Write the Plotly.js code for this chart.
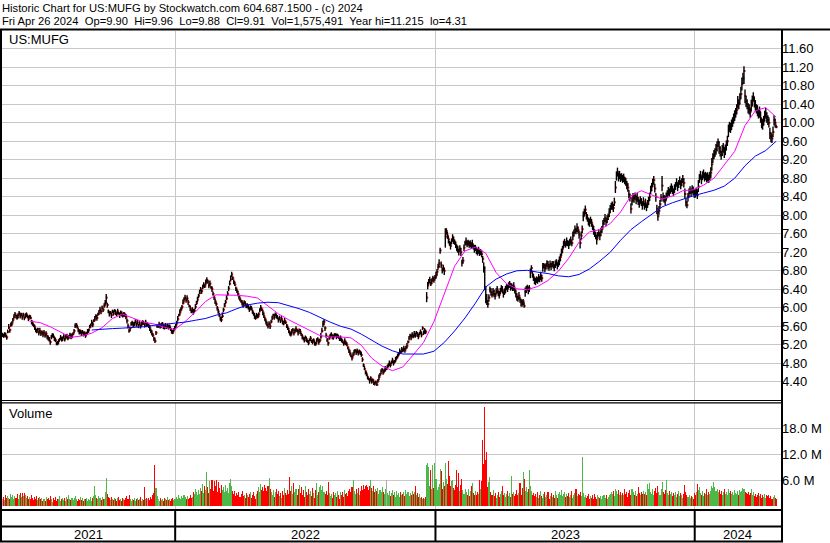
<!DOCTYPE html>
<html><head><meta charset="utf-8">
<script src="https://cdn.plot.ly/plotly-3.0.1.min.js"></script>
<style>html,body{margin:0;padding:0;background:#fff}#chart{width:830px;height:543px}</style>
</head><body><div id="chart"></div>
<script>
// ---- data ----
const yearLabels = ['2021', '2022', '2023', '2024'];

const closes2021 = [5.42,5.38,5.44,5.40,5.36,5.48,5.58,5.52,5.62,5.66,
5.74,5.80,5.86,5.82,5.78,5.84,5.88,5.82,5.86,5.80,
5.84,5.78,5.82,5.86,5.80,5.76,5.82,5.78,5.70,5.66,
5.62,5.58,5.52,5.48,5.54,5.46,5.50,5.44,5.48,5.42,
5.46,5.40,5.44,5.38,5.34,5.30,5.26,5.36,5.42,5.38,
5.34,5.30,5.24,5.22,5.28,5.32,5.36,5.30,5.34,5.38,
5.32,5.36,5.40,5.34,5.38,5.42,5.36,5.40,5.44,5.50,
5.60,5.64,5.58,5.52,5.46,5.50,5.44,5.48,5.42,5.46,
5.40,5.44,5.48,5.52,5.58,5.62,5.68,5.64,5.72,5.76,
5.82,5.78,5.86,5.90,5.96,5.92,6.00,5.96,6.04,6.10,
6.22,6.06,5.92,5.86,5.90,5.84,5.92,5.88,5.94,5.90,
5.86,5.92,5.88,5.84,5.90,5.86,5.82,5.88,5.84,5.80,
5.72,5.60,5.50,5.56,5.64,5.68,5.62,5.66,5.70,5.64,
5.68,5.62,5.66,5.60,5.64,5.70,5.66,5.62,5.68,5.64,
5.64,5.60,5.56,5.50,5.44,5.40,5.34,5.28,5.46,5.60,
5.60,5.64,5.58,5.62,5.66,5.60,5.56,5.62,5.58,5.62,
5.56,5.60,5.54,5.50,5.46,5.52,5.56];

const closes2022 = [5.60,5.68,5.76,5.84,5.90,5.96,6.02,6.10,6.18,6.22,
6.16,6.20,6.12,6.04,5.98,5.92,5.96,5.90,5.94,6.02,
6.10,6.18,6.26,6.32,6.40,6.36,6.44,6.50,6.46,6.54,
6.60,6.56,6.48,6.52,6.44,6.40,6.30,6.22,6.14,6.08,
6.00,5.92,5.84,5.78,5.74,5.82,5.96,6.04,6.12,6.20,
6.30,6.42,6.52,6.62,6.72,6.64,6.56,6.50,6.42,6.36,
6.30,6.24,6.18,6.14,6.10,6.06,6.12,6.08,6.02,6.06,
6.00,5.96,6.02,5.98,5.92,5.86,5.82,5.78,5.84,5.80,
5.86,5.94,6.00,5.96,5.90,5.82,5.76,5.70,5.64,5.60,
5.66,5.60,5.70,5.78,5.84,5.80,5.86,5.82,5.78,5.74,
5.78,5.72,5.76,5.70,5.66,5.72,5.68,5.62,5.56,5.50,
5.46,5.42,5.48,5.52,5.46,5.50,5.54,5.50,5.46,5.52,
5.48,5.42,5.38,5.34,5.30,5.36,5.32,5.28,5.24,5.30,
5.34,5.28,5.26,5.30,5.24,5.22,5.28,5.32,5.26,5.30,
5.38,5.50,5.64,5.70,5.56,5.40,5.30,5.24,5.34,5.40,
5.42,5.38,5.36,5.40,5.42,5.38,5.40,5.36,5.32,5.34,
5.30,5.26,5.22,5.28,5.24,5.20,5.14,5.08,5.02,4.96,
4.92,4.98,5.04,5.08,5.04,5.06,5.02,5.06,5.04,4.98,
4.88,4.76,4.68,4.62,4.56,4.50,4.46,4.42,4.48,4.40,
4.44,4.38,4.36,4.40,4.34,4.42,4.50,4.56,4.62,4.66,
4.60,4.64,4.68,4.68,4.72,4.76,4.80,4.76,4.82,4.86,
4.80,4.84,4.88,4.92,4.96,5.00,5.06,5.04,5.10,5.08,
5.12,5.08,5.14,5.18,5.26,5.34,5.40,5.36,5.42,5.38,
5.44,5.40,5.46,5.42,5.38,5.44,5.48,5.42,5.56,5.46,
5.50,5.48,6.22,6.48,6.56,6.60,6.52,6.58,6.64,6.60,
6.66];

const closes2023 = [6.70,6.78,6.88,6.96,7.24,6.92,6.82,6.86,6.80,7.54,
7.66,7.56,7.48,7.40,7.34,7.44,7.52,7.46,7.42,7.36,
7.30,7.26,7.22,7.28,7.20,6.98,7.02,7.30,7.40,7.44,
7.38,7.42,7.36,7.40,7.34,7.38,7.32,7.28,7.30,7.24,
7.20,7.26,7.18,7.22,7.16,7.06,6.86,6.44,6.20,6.14,
6.08,6.22,6.40,6.34,6.28,6.36,6.30,6.26,6.34,6.40,
6.32,6.28,6.36,6.44,6.38,6.30,6.34,6.40,6.46,6.42,
6.48,6.52,6.44,6.48,6.42,6.46,6.38,6.30,6.24,6.20,
6.26,6.18,6.12,6.08,6.14,6.04,6.34,6.40,6.44,6.38,
6.42,6.76,6.86,6.72,6.66,6.60,6.56,6.62,6.58,6.66,
6.62,6.70,6.64,6.88,6.92,6.86,6.90,6.96,6.92,6.88,
6.94,6.90,6.96,6.92,6.88,6.94,6.98,6.92,6.96,7.02,
7.10,7.20,7.28,7.36,7.42,7.38,7.44,7.40,7.36,7.42,
7.46,7.40,7.56,7.62,7.70,7.66,7.74,7.68,7.58,7.40,
7.56,7.70,7.98,8.06,8.12,8.00,7.94,7.88,7.84,7.90,
7.84,7.76,7.68,7.62,7.56,7.48,7.58,7.62,7.56,7.64,
7.70,7.82,7.88,7.94,7.86,7.92,7.98,8.06,8.14,8.20,
8.22,8.16,8.28,8.60,8.86,8.94,8.82,8.88,8.80,8.84,
8.78,8.82,8.76,8.72,8.66,8.60,8.46,8.38,8.14,8.30,
8.40,8.36,8.42,8.34,8.38,8.30,8.26,8.34,8.28,8.22,
8.30,8.20,8.26,8.18,8.24,8.32,8.40,8.54,8.62,8.70,
8.76,8.58,8.40,8.14,7.98,8.10,8.24,8.38,8.64,8.40,
8.36,8.32,8.40,8.46,8.52,8.48,8.56,8.60,8.54,8.50,
8.58,8.64,8.70,8.62,8.68,8.74,8.66,8.72,8.78,8.70,
8.46,8.28,8.22,8.40,8.48,8.54,8.50,8.56,8.52,8.48];

const closes2024 = [8.46,8.52,8.44,8.62,8.80,8.86,8.78,8.84,8.90,8.82,
8.86,8.80,8.84,8.78,8.86,8.92,9.10,9.24,9.30,9.36,
9.42,9.50,9.58,9.46,9.38,9.30,9.40,9.46,9.34,9.42,
9.52,9.60,9.82,9.92,9.88,9.96,10.02,10.08,10.16,10.22,
10.28,10.44,10.40,10.52,10.62,10.84,10.96,11.12,10.58,10.46,
10.40,10.32,10.28,10.24,10.36,10.48,10.56,10.44,10.38,10.30,
10.26,10.20,10.24,10.10,10.00,9.96,10.04,10.16,10.20,10.12,
10.06,10.00,9.78,9.70,9.66,9.80,10.06,10.00,9.91];

// daily high above close / low below close, in cents
const hiCents2021 = [4,5,3,6,4,5,7,3,6,5,4,6,5,3,7,4,5,6,3,4,5,3,6,4,5,7,3,5,4,6,3,5,4,6,3,5,7,4,3,5,
6,4,5,3,6,7,4,5,3,6,4,5,3,6,4,3,5,6,4,5,3,6,4,5,3,4,6,5,3,4,6,3,5,4,7,3,5,4,6,3,
5,4,6,3,5,4,6,5,3,6,4,7,3,5,6,4,5,3,6,7,8,5,4,6,3,5,4,6,3,5,4,6,3,5,4,6,5,3,4,6,
5,6,4,3,5,4,6,3,5,4,6,3,5,4,6,3,5,4,6,5,3,5,6,4,7,5,3,6,4,5,3,6,4,5,3,4,6,5,3,4,
6,4,5,3,6,4,5];
const loCents2021 = [5,3,6,4,5,3,4,6,3,5,6,4,3,5,4,6,3,5,4,6,3,5,4,6,3,5,4,3,6,5,4,6,5,3,4,6,3,5,4,6,
3,5,4,6,5,3,6,4,5,3,6,4,5,3,6,4,5,3,6,4,5,3,6,4,5,3,4,6,3,5,4,6,3,5,4,6,5,3,4,6,
5,3,4,6,3,5,4,6,3,5,4,6,3,5,4,6,3,5,4,5,12,6,4,5,3,6,4,5,3,6,4,5,3,6,4,5,3,6,4,5,
6,5,4,6,3,5,4,6,3,5,4,6,3,5,4,6,3,5,4,6,5,4,6,5,4,3,6,4,5,3,4,6,3,5,4,6,3,5,4,6,
3,5,4,6,3,5,4];
const hiCents2022 = [5,4,6,3,7,5,4,8,5,6,4,7,5,3,6,4,5,7,4,6,5,6,4,7,5,3,6,5,4,7,6,4,5,7,3,6,5,4,6,5,
4,6,5,3,7,8,4,6,5,7,6,5,7,8,6,4,5,6,4,5,6,4,5,3,6,5,4,6,5,4,6,5,3,6,4,5,7,4,5,6,
4,5,6,4,5,7,4,5,6,4,5,6,4,5,3,6,4,5,6,4,5,3,6,4,5,6,4,3,5,6,4,5,6,4,3,5,6,4,5,3,
6,4,5,3,6,4,5,3,6,4,5,3,6,4,5,3,6,4,5,3,8,7,8,5,4,6,5,3,6,4,5,4,6,5,3,6,4,5,3,6,
4,5,3,6,4,5,3,4,6,5,4,6,5,3,4,6,5,4,3,6,5,4,6,3,5,4,3,5,4,6,3,5,4,3,5,4,6,3,5,4,
5,4,6,3,5,4,6,5,4,6,5,3,6,4,5,4,6,3,5,4,6,5,4,6,3,5,4,6,5,4,6,5,4,5,6,4,5,6,4,5,
6,5,12,8,6,7,5,6,5,6,5];
const loCents2022 = [4,6,5,3,6,4,5,3,6,4,5,4,6,3,5,4,6,5,3,5,4,6,5,3,5,6,4,5,3,6,5,4,6,5,3,6,4,5,6,4,
6,5,4,6,5,4,6,3,5,4,5,6,4,5,6,4,5,3,6,4,5,6,4,3,5,6,4,5,3,6,4,5,6,4,5,3,6,4,5,3,
6,4,5,3,6,4,5,6,4,5,3,6,4,5,3,6,4,5,3,6,4,5,3,6,4,5,3,6,4,5,6,4,5,3,6,4,5,3,6,4,
5,3,6,4,5,3,6,4,5,3,6,4,5,3,6,4,5,3,6,4,5,4,6,8,6,5,4,6,3,5,4,6,5,3,4,6,5,3,4,6,
5,3,4,6,5,3,4,6,5,3,6,4,5,3,6,4,5,3,6,4,5,4,3,6,4,5,3,6,5,4,3,5,4,3,3,4,6,4,5,3,
5,4,6,3,5,4,6,5,4,6,5,3,6,4,5,4,6,3,5,4,6,5,4,6,3,5,4,6,5,4,6,5,4,5,6,4,5,6,4,5,
6,5,10,8,6,7,5,6,5,6,5];
const hiCents2023 = [8,6,7,9,6,8,5,7,6,18,6,8,7,5,9,6,7,8,5,7,6,8,5,7,9,6,8,7,5,8,7,5,8,6,7,9,5,8,6,7,
8,6,7,5,8,6,12,46,26,16,9,7,6,8,5,7,9,6,8,7,6,8,7,5,9,6,8,7,5,8,7,6,8,5,7,9,6,8,7,5,
8,6,7,9,5,8,10,7,6,8,7,9,6,8,7,5,9,6,8,7,6,8,7,9,5,8,6,7,9,6,8,7,5,9,6,8,7,6,8,9,
7,8,6,9,7,5,8,6,9,7,8,6,9,7,8,6,9,7,8,10,9,8,10,8,9,7,8,6,9,7,8,6,9,7,8,10,6,8,7,9,
7,8,6,9,7,8,6,9,8,7,8,9,10,14,9,9,10,8,9,7,9,8,7,9,8,10,9,8,12,9,8,9,7,8,10,9,8,7,9,8,
9,8,10,7,9,8,9,10,8,9,9,10,8,9,12,10,9,8,21,9,8,10,9,8,9,10,8,9,10,8,9,8,10,9,8,10,9,8,9,10,
12,10,9,8,10,9,8,9,10,8];
const loCents2023 = [7,8,6,9,7,6,8,7,9,24,8,7,9,6,8,7,9,8,6,7,8,7,9,6,8,9,7,8,6,9,7,8,6,9,7,8,6,9,7,8,
7,9,6,8,7,9,10,6,10,8,8,9,7,8,6,9,7,8,6,9,7,8,6,9,7,8,6,9,7,8,6,9,7,8,6,9,7,8,9,7,
8,7,9,6,8,4,10,8,7,9,8,12,9,7,8,9,7,8,6,9,7,9,8,10,7,9,8,7,9,8,7,9,8,7,9,8,7,9,8,10,
9,8,10,7,9,8,10,7,9,8,9,7,10,8,9,7,10,8,9,12,10,9,11,8,10,9,8,10,9,8,9,8,10,9,8,11,9,8,10,9,
8,10,9,8,10,9,8,10,9,8,10,9,8,12,11,10,9,10,8,9,8,10,9,8,10,9,10,8,10,9,10,9,8,10,9,8,10,9,8,10,
9,8,10,9,8,10,9,8,10,9,10,9,11,12,10,9,10,9,12,10,9,10,8,9,10,8,9,10,8,9,10,9,8,10,9,8,10,9,8,10,
10,9,7,10,9,8,10,9,8,10];
const hiCents2024 = [10,8,12,14,9,10,8,11,9,10,8,11,9,10,8,12,14,10,11,9,12,10,8,14,11,9,12,10,13,11,
10,12,14,10,12,11,10,12,11,10,12,14,11,12,16,14,12,10,14,12,11,10,12,9,14,11,10,12,11,10,
12,10,11,14,10,12,11,10,12,11,10,12,11,9,10,12,10,9,5];
const loCents2024 = [8,10,9,12,10,9,11,8,10,9,10,9,11,8,10,12,14,11,9,10,11,12,10,13,11,10,12,11,10,12,
12,10,13,11,10,12,11,10,12,11,10,13,11,12,10,14,12,28,16,12,11,12,10,13,11,12,10,11,13,10,
12,11,13,10,12,11,10,13,11,12,11,10,13,12,10,11,12,10,3];

// daily volume, millions of shares
const volume2021 = [1.8,2.2,1.5,2.6,1.9,2.4,2.0,1.6,2.8,2.1,2.5,1.7,2.3,2.0,2.9,1.8,2.6,3.1,2.2,3.0,
2.4,3.0,2.7,1.9,2.3,1.6,2.2,1.8,2.5,1.9,1.5,2.1,1.7,2.4,1.4,1.9,2.2,1.6,2.0,1.3,
1.8,1.2,2.1,1.6,1.9,1.4,2.3,1.7,1.1,1.9,1.5,2.2,1.3,1.8,1.6,2.4,1.2,1.7,2.0,1.4,
1.9,1.3,2.1,1.6,2.6,1.8,1.4,2.0,1.5,1.9,2.3,1.7,1.2,1.8,1.5,2.2,1.4,1.9,1.3,1.7,
1.6,2.0,1.3,1.8,1.5,2.1,1.2,1.9,2.3,4.6,2.6,2.0,1.6,2.4,1.9,1.5,2.2,1.8,1.7,3.4,
6.6,2.8,2.2,1.9,1.5,2.1,1.7,1.4,2.0,1.6,1.3,1.9,2.2,1.5,1.8,1.2,2.0,1.6,1.4,1.9,
2.3,1.7,2.5,1.6,1.3,1.8,1.5,2.0,1.2,1.7,1.9,1.4,1.6,2.1,1.3,1.8,1.5,4.4,1.7,2.0,
1.6,1.9,1.4,2.2,1.7,2.6,3.1,9.5,4.2,2.4,1.8,1.3,2.0,1.5,1.7,1.2,1.9,1.6,1.4,2.1,
1.5,1.8,1.3,1.7,2.0,1.4,1.6];
const volume2022 = [1.6,2.2,1.8,2.5,2.0,1.7,2.4,1.9,2.6,2.1,1.8,2.3,1.6,2.0,2.5,1.9,2.2,3.4,2.8,4.1,
3.2,2.6,3.8,2.9,4.3,3.5,5.2,3.0,4.6,3.7,8.0,4.4,3.1,5.8,4.0,6.0,3.6,5.9,4.8,6.1,
3.4,5.5,4.2,3.0,5.0,3.8,4.5,3.2,4.9,3.6,4.2,3.1,5.4,6.2,4.6,3.5,2.8,3.6,2.4,3.0,
2.6,3.3,2.1,2.9,3.5,2.3,2.7,1.9,3.1,2.5,2.2,2.8,3.4,2.0,2.6,3.2,2.4,1.8,2.9,3.6,
4.5,3.4,5.1,3.8,4.4,3.5,5.0,4.2,3.6,4.8,6.6,4.0,3.2,2.6,3.8,2.2,3.4,4.1,2.8,3.5,
2.4,3.0,1.9,3.6,2.7,4.2,3.1,2.5,3.8,2.9,6.8,3.6,4.8,2.9,5.3,3.4,4.1,2.6,3.9,5.0,
3.1,4.4,2.7,3.8,2.2,4.6,3.3,2.5,3.9,2.8,3.5,2.4,4.2,3.0,1.9,3.7,5.3,2.6,3.3,4.5,
4.9,3.8,4.6,3.2,2.8,3.5,2.6,5.5,3.1,2.4,2.8,1.9,3.3,2.5,3.0,2.1,3.6,2.7,1.8,3.2,
2.6,3.4,2.2,3.8,2.9,3.1,2.4,3.5,4.0,3.3,4.4,6.0,3.6,2.8,3.9,3.0,4.2,2.6,3.5,4.6,
3.8,4.9,4.1,4.6,5.0,4.4,3.7,4.8,6.0,4.2,3.5,4.7,3.3,4.0,3.6,4.3,2.9,3.8,3.2,4.5,
3.4,2.8,3.9,6.0,3.1,2.6,3.5,2.4,3.0,3.7,2.7,3.3,2.2,3.6,2.5,3.0,2.1,3.4,2.6,2.9,
3.2,2.4,3.7,2.8,3.4,2.3,3.1,2.6,3.5,2.9,3.3,4.7,2.5,3.0,2.2,2.8,1.9,2.2,1.7,2.0,
1.6,2.1,9.6,10.0,9.0,4.6,8.4,3.9,9.5,4.2,10.1];
const volume2023 = [6.2,3.7,4.4,5.1,8.5,8.2,3.9,5.6,4.8,10.0,6.4,5.2,10.5,7.1,4.6,5.9,6.0,4.2,3.8,5.0,
8.4,4.4,7.6,3.5,4.9,6.2,3.8,2.9,4.1,3.3,2.6,3.9,2.4,3.5,4.6,5.3,3.0,2.7,3.6,2.5,
3.2,2.8,6.0,3.9,5.8,15.3,9.8,23.0,10.7,12.6,4.5,5.7,6.8,3.2,2.6,3.8,2.3,3.1,2.0,2.7,
3.4,2.2,2.9,3.6,4.7,2.5,3.1,2.1,2.8,3.5,2.4,3.0,2.2,7.0,2.9,3.4,2.3,2.8,3.7,2.6,
3.1,5.4,2.7,4.2,8.0,6.3,3.6,4.5,3.2,3.9,8.4,4.8,3.5,2.6,3.1,2.4,2.9,2.2,3.3,2.0,
2.7,3.5,2.3,1.9,2.8,3.4,2.1,2.6,3.2,1.8,2.4,3.0,2.2,2.7,1.9,3.6,2.5,2.0,2.9,3.4,
2.6,3.8,2.3,2.9,3.3,2.1,2.8,2.4,3.0,2.2,2.7,3.5,2.0,2.6,3.1,4.0,2.3,2.8,2.5,3.2,
2.4,11.3,3.0,2.2,2.7,1.9,2.4,2.8,1.7,2.3,2.0,2.6,1.8,2.9,2.2,1.6,2.5,2.1,1.9,2.4,
1.8,2.3,2.7,2.0,2.5,1.7,2.2,2.6,2.9,3.2,2.8,3.6,2.4,4.1,3.5,2.9,3.8,2.6,3.3,2.7,
3.1,2.5,3.9,2.8,3.4,2.2,3.0,3.7,2.6,4.0,3.2,2.7,3.5,2.4,2.9,4.4,3.1,2.6,3.3,2.8,
3.6,2.9,3.4,2.5,5.2,4.1,5.3,3.2,2.8,3.9,2.6,3.5,4.2,3.0,4.6,3.3,2.7,4.0,5.5,3.4,
2.9,3.8,6.0,3.1,2.5,3.6,2.8,3.3,2.4,3.0,2.7,3.4,2.2,2.9,3.5,2.4,3.1,2.6,2.0,2.8,
4.9,3.2,2.5,2.1,2.7,1.9,2.4,2.2,1.8,3.0];
const volume2024 = [2.6,3.3,5.2,3.8,4.4,3.0,2.7,3.6,2.4,3.1,2.8,3.9,2.5,3.4,2.9,3.5,4.8,4.2,5.5,4.4,
3.6,4.0,3.2,3.8,2.9,3.5,2.6,3.3,4.1,2.8,3.4,2.7,3.9,3.1,3.6,2.8,3.3,2.5,3.7,3.0,
2.9,3.5,2.6,3.8,3.2,3.6,4.3,3.9,3.4,3.1,2.8,3.3,2.5,3.0,4.1,2.6,3.2,2.4,2.9,2.2,
2.7,3.1,2.3,2.8,2.0,2.6,2.2,2.9,1.9,2.5,2.3,2.7,2.0,2.4,1.8,2.2,2.6,1.9,1.58];

// moving averages, sampled every maStep trading days, ending on the last bar
const maStep = 10;
const maFast = [5.71,5.68,5.59,5.47,5.36,5.39,5.45,5.57,5.77,5.86,
5.78,5.69,5.65,5.58,5.53,5.70,5.91,6.14,6.28,6.28,
6.27,6.25,6.21,6.04,5.87,5.74,5.63,5.51,5.40,5.37,
5.37,5.35,5.19,4.91,4.74,4.64,4.72,4.98,5.25,5.70,
6.30,6.90,7.23,7.31,7.18,6.76,6.52,6.41,6.39,6.46,
6.59,6.79,7.07,7.42,7.64,7.69,7.82,8.07,8.42,8.53,
8.44,8.35,8.42,8.53,8.55,8.65,8.80,9.08,9.38,9.94,
10.26,10.33,10.12];
const maSlow = [5.52,5.54,5.55,5.56,5.57,5.59,5.62,5.64,5.66,5.69,
5.73,5.77,5.84,5.89,5.98,6.06,6.10,6.12,6.11,6.05,
5.98,5.90,5.79,5.69,5.60,5.54,5.43,5.30,5.17,5.07,
5.00,5.00,5.00,5.06,5.25,5.50,5.78,6.10,6.45,6.62,
6.73,6.80,6.81,6.77,6.74,6.69,6.67,6.72,6.84,7.01,
7.20,7.46,7.69,7.86,8.03,8.18,8.27,8.35,8.42,8.48,
8.54,8.63,8.80,9.07,9.28,9.40,9.60];

const volTickVals = [6, 12, 18];
const volTickText = ['6.0 M', '12.0 M', '18.0 M'];

const headerLine1 = 'Historic Chart for US:MUFG by Stockwatch.com 604.687.1500 - (c) 2024';
const headerLine2 = 'Fri Apr 26 2024 \u00a0Op=9.90 \u00a0Hi=9.96 \u00a0Lo=9.88 \u00a0Cl=9.91 \u00a0Vol=1,575,491 \u00a0Year hi=11.215 \u00a0lo=4.31';
const symbolLabel = 'US:MUFG';

// ---- build ----
const closes = closes2021.concat(closes2022, closes2023, closes2024);
const hiC = hiCents2021.concat(hiCents2022, hiCents2023, hiCents2024);
const loC = loCents2021.concat(loCents2022, loCents2023, loCents2024);
const volume = volume2021.concat(volume2022, volume2023, volume2024);
const N = closes.length;
const idx = closes.map((_, i) => i);
const high = closes.map((c, i) => c + hiC[i] / 100);
const low = closes.map((c, i) => c - loC[i] / 100);

const segX = [], segY = [];
for (let i = 0; i < N; i++) { segX.push(i, i, null); segY.push(low[i], high[i], null); }

const maX = arr => arr.map((_, k) => (N - 1) - (arr.length - 1 - k) * maStep);

const GREEN = '#4db848', RED = '#ff0000', GREY = '#a9a9a9';
const volColors = volume.map((v, i) => i === 0 ? GREY :
  (closes[i] > closes[i - 1] ? GREEN : (closes[i] < closes[i - 1] ? RED : GREY)));

const lens = [closes2021.length, closes2022.length, closes2023.length, closes2024.length];
const xRange = [-0.5, N + 3.7];
const b1 = lens[0] - 0.5, b2 = b1 + lens[1], b3 = b2 + lens[2];
const segBounds = [xRange[0], b1, b2, b3, xRange[1]];

// pixel helpers for frame decoration (plot area: x 2..781, y 31..509)
const W = 830, H = 543, L = 2, R = 49, T = 31, B = 34;
const pw = W - L - R, ph = H - T - B;
const px = v => (v - L) / pw;
const py = v => (H - B - v) / ph;
const dx = v => (v - xRange[0]) / (xRange[1] - xRange[0]);

const FONT = 'Arial, Liberation Sans, sans-serif';
const blk = (x0, y0, x1, y1, w) => ({type: 'line', xref: 'paper', yref: 'paper', x0, y0, x1, y1, line: {color: '#000', width: w}});

const shapes = [
  blk(px(0), py(29.5), px(830), py(29.5), 2),
  blk(px(1), py(29.5), px(1), py(542), 2),
  blk(px(782), py(29.5), px(782), py(542), 2),
  blk(px(0), py(400.5), px(782), py(400.5), 1.2),
  blk(px(0), py(402.8), px(782), py(402.8), 1.2),
  blk(px(0), py(510), px(783), py(510), 2),
  blk(px(0), py(526.5), px(783), py(526.5), 2),
  blk(px(0), py(541.5), px(783), py(541.5), 2)
];
[b1, b2, b3].forEach(b => shapes.push(blk(dx(b), py(510), dx(b), py(541.5), 2)));

const ann = (text, x, y, xanchor, xref, size) => ({text, x, y, xref: xref || 'paper', yref: 'paper', xanchor, yanchor: 'middle', showarrow: false, borderpad: 0, font: {family: FONT, size: size || 13, color: '#000'}});
const annotations = [
  ann(headerLine1, px(1), py(7.5), 'left', 'paper', 11.2),
  ann(headerLine2, px(1), py(21.5), 'left', 'paper', 11.2),
  ann(symbolLabel, px(8), py(39.5), 'left'),
  ann('Volume', px(8), py(413), 'left')
];
yearLabels.forEach((t, k) => annotations.push(ann(t, (segBounds[k] + segBounds[k + 1]) / 2, py(534.5), 'center', 'x')));

const traces = [
  // close ticks first, so the next bar's range line covers them like the original plotter does
  {type: 'scatter', mode: 'markers', x: idx.map(i => i + 0.5), y: closes, marker: {symbol: 'square', size: 2, color: RED, line: {width: 0}}, hoverinfo: 'skip', xaxis: 'x', yaxis: 'y'},
  {type: 'scatter', mode: 'lines', x: segX, y: segY, line: {color: '#000', width: 1.4}, hoverinfo: 'skip', xaxis: 'x', yaxis: 'y'},
  {type: 'scatter', mode: 'lines', x: maX(maFast), y: maFast, line: {color: '#ff00ff', width: 1}, hoverinfo: 'skip', xaxis: 'x', yaxis: 'y'},
  {type: 'scatter', mode: 'lines', x: maX(maSlow), y: maSlow, line: {color: '#0000ff', width: 1}, hoverinfo: 'skip', xaxis: 'x', yaxis: 'y'},
  {type: 'bar', x: idx, y: volume, width: 1, marker: {color: volColors, line: {width: 0}}, hoverinfo: 'skip', xaxis: 'x', yaxis: 'y2'}
];

const layout = {
  width: W, height: H, margin: {l: L, r: R, t: T, b: B, pad: 0},
  paper_bgcolor: '#fff', plot_bgcolor: '#fff', showlegend: false, bargap: 0,
  font: {family: FONT, size: 13, color: '#000'},
  xaxis: {range: xRange, tickvals: [b1, b2, b3], showticklabels: false, ticks: '', showgrid: true,
    gridcolor: '#c8c8c8', gridwidth: 1, zeroline: false, showline: false, anchor: 'y2', fixedrange: true},
  yaxis: {domain: [py(400), 1], range: [4.006, 11.984], side: 'right', anchor: 'x', tick0: 4.4, dtick: 0.4,
    tickformat: '.2f', ticks: '', showgrid: true, gridcolor: '#c8c8c8', gridwidth: 1, zeroline: false,
    showline: false, tickfont: {family: FONT, size: 13, color: '#000'}, fixedrange: true},
  yaxis2: {domain: [0, py(403)], range: [-0.62, 23.84], side: 'right', anchor: 'x', tickvals: volTickVals,
    ticktext: volTickText, ticks: '', showgrid: true, gridcolor: '#c8c8c8', gridwidth: 1, zeroline: false,
    showline: false, tickfont: {family: FONT, size: 13, color: '#000'}, fixedrange: true},
  shapes, annotations
};

Plotly.newPlot('chart', traces, layout, {displayModeBar: false, staticPlot: true});
</script>
</body></html>
